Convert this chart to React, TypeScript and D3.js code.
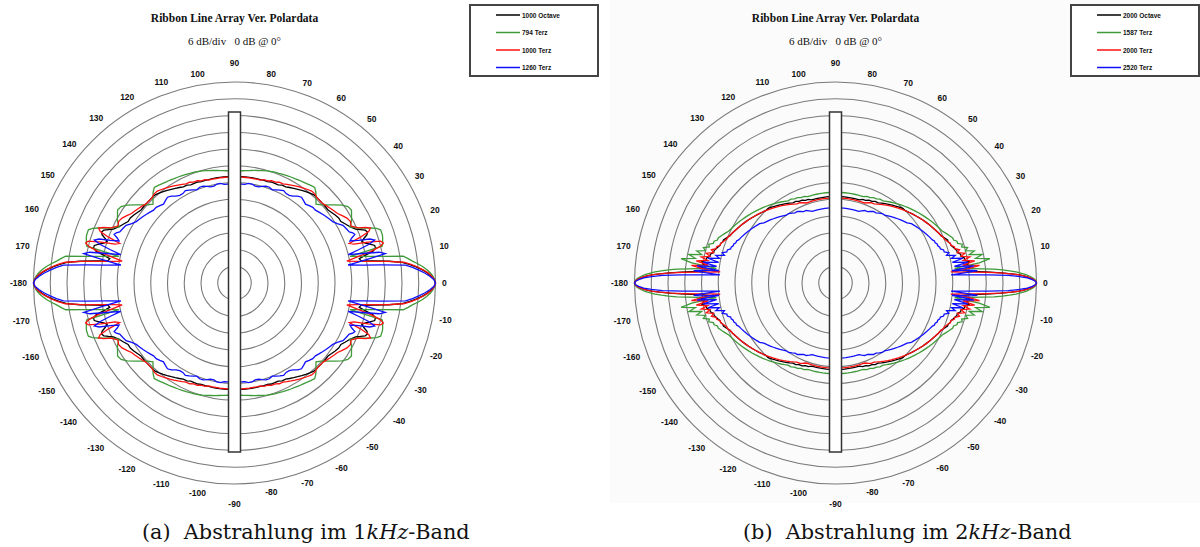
import React from "react";
import * as d3 from "d3";

// ---------- data (dB relative to 0 dB @ 0°, one quadrant 0°..90°, chart is mirrored) ----------
const ANGLES_1K = [0,1,2,3,4,5,6,7,8,9,10,11,12,13,14,15,16,17,18,19,20,21,22,23,24,26,28,30,32,34,36,38,40,42,44,46,48,50,52,54,56,58,60,62,64,66,68,70,72,74,76,78,80,82,84,86,88,90];
const OCT_1000 = [0,-0.4,-1.4,-2.8,-4.5,-6.5,-8.8,-11.5,-16,-21.5,-26,-26.5,-24,-21,-20,-20,-21.5,-23,-24,-23,-21.5,-21,-21.5,-23,-24.5,-26,-27,-28,-28,-28.5,-29,-29.5,-29.5,-29.5,-29.5,-29.5,-29.5,-30,-30.5,-31,-31.5,-32,-32.5,-33,-33,-33.5,-33.5,-33.5,-33.8,-33.8,-33.8,-33.8,-33.8,-33.8,-33.8,-33.8,-33.8,-33.8];
const TERZ_794 = [0,-0.3,-0.9,-1.8,-3,-4.4,-6,-7.8,-9.2,-10.8,-17,-22,-26,-29.5,-17.5,-17,-16.8,-16.5,-16.3,-16.3,-16.3,-17.5,-19.4,-21.5,-23.6,-26,-24.5,-23.6,-22.6,-23,-24.5,-26.6,-28.5,-30.2,-31.4,-30,-28.4,-27.3,-27.6,-28,-28.3,-28.5,-28.8,-29,-29.2,-29.4,-29.6,-29.7,-30,-30.2,-30.5,-30.8,-31,-31.3,-31.5,-31.7,-31.9,-32];
const TERZ_1000 = [0,-0.4,-1.3,-2.6,-4.3,-6.2,-8.4,-11,-16.5,-22.5,-27.4,-31,-27,-22,-18.5,-16.8,-17.5,-22,-27,-28.5,-24,-20.5,-19.5,-21,-23.5,-25.5,-25,-25.5,-26.5,-27.5,-28,-28.5,-29,-29.5,-29.5,-29.5,-29,-29,-29.5,-30,-30.5,-31,-31.5,-32,-32.5,-32.5,-33,-33,-33.5,-33.5,-34,-34,-34,-34,-34,-34,-34,-34];
const TERZ_1260 = [0,-0.6,-2,-3.8,-5.8,-8,-10.4,-19,-25.8,-30.8,-24,-17,-19,-25,-30,-26,-22,-19.5,-21,-25,-28,-27,-25.5,-26,-27,-27.5,-28,-29.5,-30.5,-31,-31.5,-32,-32.5,-33,-33,-33.5,-34,-33.5,-33,-33.5,-34.5,-35,-35,-34.5,-35,-35.5,-36,-35.5,-35.5,-36,-36.5,-36.5,-36,-36,-36.5,-36.5,-36.5,-36.5];

const ANGLES_2K = [0,0.5,1,1.5,2,2.5,3,3.5,4,4.5,5,5.5,6,7,8,9,10,11,12,13,14,15,16,17,18,19,20,21,22,23,24,26,28,30,32,34,36,38,40,42,44,46,48,50,52,54,56,58,60,62,64,66,68,70,72,74,76,78,80,82,84,86,88,90];
const OCT_2000 = [0,-0.3,-1,-2.2,-3.8,-6,-9,-12.5,-16.5,-20.5,-24,-26,-25,-23,-24.5,-23.5,-25,-25,-26,-26,-27,-27,-27.5,-28,-28.5,-28.5,-29,-29,-29.5,-30,-30.5,-31,-31.5,-32,-32.5,-33,-33.5,-34,-34.5,-35,-35.5,-36,-36,-36.5,-37,-37.5,-38,-38.5,-39,-39.5,-39.5,-40,-40,-40.5,-40.5,-41,-41,-41,-41,-41,-41,-41,-41,-41];
const TERZ_1587 = [0,-0.2,-0.6,-1.4,-2.4,-3.7,-5.3,-7.2,-9.5,-12,-15,-19,-23,-29,-20,-16,-21,-18.5,-23,-21,-24,-23,-25,-24.5,-26,-26,-27,-27,-27.5,-28,-28.5,-29.5,-30,-30.5,-31,-31.5,-32,-32.5,-33,-33.5,-34,-34.5,-35,-35.5,-36,-36.5,-37,-37.5,-38,-38,-38.5,-38.5,-39,-39,-39.5,-39.5,-39.5,-39.5,-39.5,-39.5,-39.5,-39.5,-39.5,-39.5];
const TERZ_2000 = [0,-0.3,-1,-2.2,-3.8,-6,-9,-13,-17.5,-22,-27,-30.5,-25,-20,-26,-21.5,-25.5,-23,-26,-24.5,-27,-26,-27.5,-27.5,-28.5,-28.5,-29,-29.5,-30,-30,-30.5,-31,-31.5,-32,-32.5,-33,-33.5,-34,-34.5,-35,-35.5,-36,-36.5,-37,-37.5,-38,-38.5,-39,-39.5,-40,-40.5,-40.5,-41,-41.5,-41.5,-41.5,-41.5,-41.5,-41.5,-41.5,-41.5,-41.5,-41.5,-41.5];
const TERZ_2520 = [0,-0.4,-1.5,-3.3,-6,-10,-17,-24,-30.5,-25,-21,-24,-30,-22,-29,-24,-29.5,-25.5,-29.5,-28,-31,-30,-31.5,-31.5,-32.5,-32.5,-33,-33,-33.5,-33.5,-34,-34.5,-35,-35.5,-36,-36.5,-37,-37.5,-38.5,-39,-39.5,-40,-40.5,-41,-41.5,-42,-42,-42.5,-43,-43,-43.5,-44,-44,-44.5,-45,-45,-45,-45,-45,-45,-45,-45,-45,-45];

const ANGLE_TICKS = [0,10,20,30,40,50,60,70,80,90,100,110,120,130,140,150,160,170,-180,-170,-160,-150,-140,-130,-120,-110,-100,-90,-80,-70,-60,-50,-40,-30,-20,-10];
const RING_DB = [-66,-60,-54,-48,-42,-36,-30,-24,-18,-12,-6,0];
const DB_MIN = -72;

const SERIES_COLORS = ["#000000", "#3f9a3a", "#ff1010", "#1010ff"];
const LEGEND_1K = ["1000 Octave", "794 Terz", "1000 Terz", "1260 Terz"];
const LEGEND_2K = ["2000 Octave", "1587 Terz", "2000 Terz", "2520 Terz"];

const TITLE = "Ribbon Line Array Ver. Polardata";
const SUBTITLE = "6 dB/div   0 dB @ 0°";

type Pt = [number, number];

function mirrorQuadrant(angles: number[], vals: number[]): Pt[] {
  const n = Math.min(angles.length, vals.length);
  const pts: Pt[] = [];
  for (let i = 0; i < n; i++) pts.push([angles[i], vals[i]]);
  for (let i = n - 1; i >= 0; i--) pts.push([180 - angles[i], vals[i]]);
  for (let i = 0; i < n; i++) pts.push([180 + angles[i], vals[i]]);
  for (let i = n - 1; i >= 0; i--) pts.push([360 - angles[i], vals[i]]);
  return pts;
}

const LABEL_FS = 8.5;
function labelWidth(t: number) {
  const s = String(t);
  let w = 0;
  for (const ch of s) w += ch === "-" ? 0.333 : 0.556;
  return w * LABEL_FS;
}

function PolarChart({ ox, angles, series, legend, bg }: { ox: number; angles: number[]; series: number[][]; legend: string[]; bg?: boolean }) {
  const cx = ox + 234.5;
  const cy = 283;
  const R = 201;
  const r = d3.scaleLinear().domain([DB_MIN, 0]).range([0, R]);
  const line = d3
    .lineRadial<Pt>()
    .angle((d) => ((90 - d[0]) * Math.PI) / 180)
    .radius((d) => r(d[1]))
    .curve(d3.curveLinearClosed);
  const legX = ox + 470;
  const legY = 5;
  return (
    <g>
      {bg && <rect x={ox + 9} y={0} width={600 - 9} height={503} fill="#fbfbfb" />}
      <text x={cx} y={22} textAnchor="middle" fontFamily="Liberation Serif" fontWeight="bold" fontSize={11.5} fill="#111">
        {TITLE}
      </text>
      <text x={cx} y={45} textAnchor="middle" fontFamily="Liberation Serif" fontSize={11} fill="#111" style={{ whiteSpace: "pre" }}>
        {SUBTITLE}
      </text>
      <g>
        {RING_DB.map((db) => (
          <circle key={db} cx={cx} cy={cy} r={r(db)} fill="none" stroke="#7a7a7a" strokeWidth={1.1} />
        ))}
      </g>
      <g transform={`translate(${cx},${cy})`}>
        {series.map((vals, i) => (
          <path key={i} d={line(mirrorQuadrant(angles, vals)) || ""} fill="none" stroke={SERIES_COLORS[i]} strokeWidth={1.3} strokeLinejoin="miter" />
        ))}
      </g>
      <rect x={cx - 6} y={cy - 171} width={12} height={340} fill="#ffffff" stroke="#333" strokeWidth={1.5} />
      <g fontFamily="Liberation Sans" fontWeight="bold" fontSize={LABEL_FS} fill="#111">
        {ANGLE_TICKS.map((t) => {
          const a = (t * Math.PI) / 180;
          const rr = 207.5 + (labelWidth(t) / 2) * Math.abs(Math.cos(a)) + 4 * Math.abs(Math.sin(a)) + (Math.abs(t) === 90 ? 9 : 0);
          return (
            <text key={t} x={cx + rr * Math.cos(a)} y={cy - rr * Math.sin(a)} textAnchor="middle" dominantBaseline="central">
              {t}
            </text>
          );
        })}
      </g>
      <rect x={legX} y={legY} width={128} height={71} fill="#ffffff" stroke="#444" strokeWidth={2} />
      {legend.map((lab, i) => {
        const y = legY + 10 + i * 17.5;
        return (
          <g key={lab}>
            <line x1={legX + 26} x2={legX + 50} y1={y} y2={y} stroke={SERIES_COLORS[i]} strokeWidth={1.5} />
            <text x={legX + 52} y={y} dominantBaseline="central" fontFamily="Liberation Sans" fontWeight="bold" fontSize={6.5} fill="#111">
              {lab}
            </text>
          </g>
        );
      })}
    </g>
  );
}

export default function App() {
  return (
    <svg width={1200} height={547} style={{ position: "absolute", left: 0, top: 0, display: "block", background: "#ffffff" }}>
      <PolarChart ox={0} angles={ANGLES_1K} series={[OCT_1000, TERZ_794, TERZ_1000, TERZ_1260]} legend={LEGEND_1K} />
      <PolarChart ox={601} angles={ANGLES_2K} series={[OCT_2000, TERZ_1587, TERZ_2000, TERZ_2520]} legend={LEGEND_2K} bg />
      <text x={142} y={539} fontFamily="DejaVu Serif" fontSize={20.8} fill="#111" style={{ whiteSpace: "pre" }}>
        {"(a)  Abstrahlung im 1"}
        <tspan fontStyle="italic">kHz</tspan>
        {"-Band"}
      </text>
      <text x={743} y={539} fontFamily="DejaVu Serif" fontSize={20.8} fill="#111" style={{ whiteSpace: "pre" }}>
        {"(b)  Abstrahlung im 2"}
        <tspan fontStyle="italic">kHz</tspan>
        {"-Band"}
      </text>
    </svg>
  );
}
